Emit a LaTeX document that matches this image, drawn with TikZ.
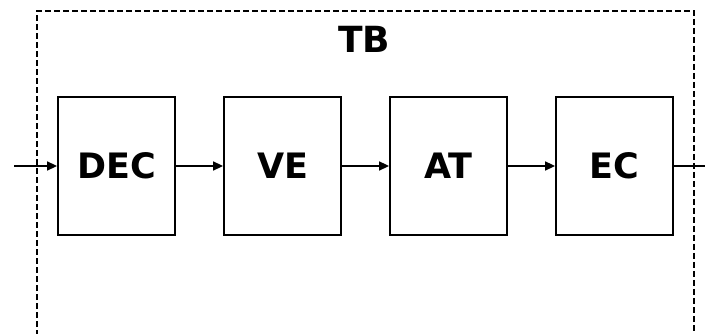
\documentclass[tikz,border=0pt]{standalone}
\usepackage{fontspec}
\setmainfont{DejaVu Sans}
\usetikzlibrary{arrows.meta}
\begin{document}
\begin{tikzpicture}[x=1pt,y=-1pt,
  block/.style={draw, line width=1.8pt, minimum width=117pt, minimum height=138pt,
    inner sep=0pt, font=\fontsize{35}{35}\selectfont\bfseries},
  link/.style={line width=1.6pt, -{Triangle[length=10pt,width=9pt]}},
  frame/.style={draw, line width=2pt, dash pattern=on 6pt off 3pt}]
  \useasboundingbox (0,0) rectangle (705,334);
  % enclosing dashed frame, running off the bottom edge
  \draw[frame] (37,345) -- (37,11) -- (694,11) -- (694,345);
  \node[font=\fontsize{36}{36}\selectfont\bfseries] (tb) at (364,39) {TB};
  % processing chain
  \node[block] (dec) at (116.5,166) {DEC};
  \node[block] (ve)  at (282.5,166) {VE};
  \node[block] (at)  at (448.5,166) {AT};
  \node[block] (ec)  at (614.5,166) {EC};
  \coordinate (in)  at (14,166);
  \coordinate (out) at (716,166);
  \draw[link] (in) -- (dec);
  \draw[link] (dec) -- (ve);
  \draw[link] (ve) -- (at);
  \draw[link] (at) -- (ec);
  \draw[link] (ec) -- (out);
\end{tikzpicture}
\end{document}
